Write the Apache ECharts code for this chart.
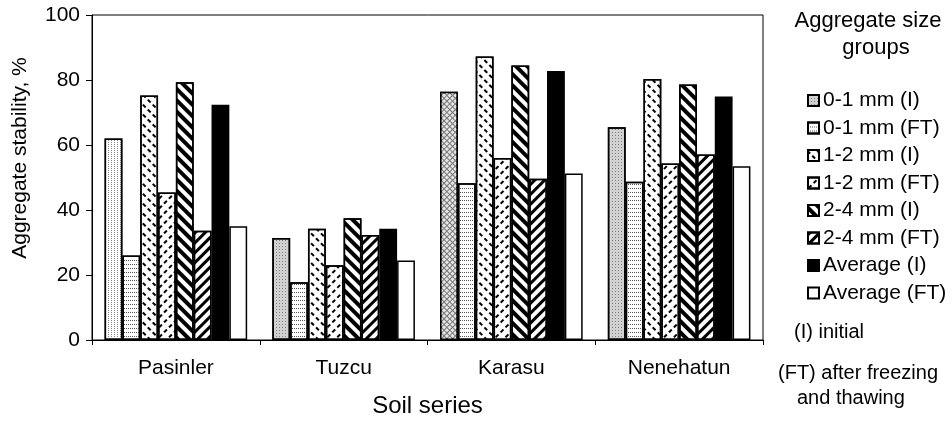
<!DOCTYPE html>
<html><head><meta charset="utf-8">
<script src="https://cdn.jsdelivr.net/npm/echarts@6/dist/echarts.min.js"></script>
<style>html,body{margin:0;padding:0;background:#fff}#c{width:952px;height:423px}</style>
</head><body><div id="c"></div>
<script>
var categories = ['Pasinler', 'Tuzcu', 'Karasu', 'Nenehatun'];
var seriesNames = ['0-1 mm (I)', '0-1 mm (FT)', '1-2 mm (I)', '1-2 mm (FT)', '2-4 mm (I)', '2-4 mm (FT)', 'Average (I)', 'Average (FT)'];
var v01I  = [62, 31.4, 76.4, 65.5];
var v01FT = [26, 17.8, 48.2, 48.7];
var v12I  = [75.2, 34.2, 87.2, 80.3];
var v12FT = [45.4, 23, 56, 54.3];
var v24I  = [79.3, 37.5, 84.5, 78.6];
var v24FT = [33.6, 32.3, 49.6, 57.1];
var vAvgI = [72.4, 34.2, 82.8, 74.9];
var vAvgFT= [35, 24.5, 51.2, 53.5];
var yTicks = [0, 20, 40, 60, 80, 100];

var font = '"Liberation Sans", Arial, sans-serif';
var allValues = [v01I, v01FT, v12I, v12FT, v24I, v24FT, vAvgI, vAvgFT];

var styles = [
  {color:'#d2d2d2', decal:{symbol:'rect', symbolSize:1, dashArrayX:[1,2], dashArrayY:[1,2], color:'#808080'}},
  {color:'#ffffff', decal:{symbol:'rect', symbolSize:1, dashArrayX:[1,1], dashArrayY:[1,3], color:'#555'}},
  {color:'#ffffff', decal:{symbol:'rect', symbolSize:1, dashArrayX:[[4,3]], dashArrayY:[1.6,4.5], rotation:Math.PI/4, color:'#000'}},
  {color:'#ffffff', decal:{symbol:'rect', symbolSize:1, dashArrayX:[[4,3]], dashArrayY:[1.6,4.5], rotation:-Math.PI/4, color:'#000'}},
  {color:'#ffffff', decal:{symbol:'rect', symbolSize:1, dashArrayX:[1,0], dashArrayY:[4,4], rotation:Math.PI/4, color:'#000'}},
  {color:'#ffffff', decal:{symbol:'rect', symbolSize:1, dashArrayX:[1,0], dashArrayY:[3,4], rotation:-Math.PI/4, color:'#000'}},
  {color:'#000000'},
  {color:'#ffffff'}
];
// per-category variants of the first pattern
var firstVariants = [
  {color:'#ffffff', decal:{symbol:'rect', symbolSize:1, dashArrayX:[1,2], dashArrayY:[1,1], color:'#888'}},
  null,
  {color:'#777777', decal:{symbol:'rect', symbolSize:1, dashArrayX:[3,1], dashArrayY:[3,1], rotation:Math.PI/4, color:'#e6e6e6'}},
  null
];

var series = seriesNames.map(function(name, i){
  var st = styles[i];
  var data = allValues[i].map(function(v, j){
    if (i === 0 && firstVariants[j]) {
      var fv = firstVariants[j];
      var it = {color: fv.color, borderColor:'#000', borderWidth:1.5};
      if (fv.decal) it.decal = fv.decal;
      return {value: v, itemStyle: it};
    }
    return v;
  });
  var itemStyle = {color: st.color, borderColor:'#000', borderWidth:1.5};
  if (st.decal) itemStyle.decal = st.decal;
  return {
    name: name, type:'bar', data: data, barGap:'0%', barCategoryGap:'15%',
    itemStyle: itemStyle, emphasis:{disabled:true}, animation:false
  };
});

var chart = echarts.init(document.getElementById('c'), null, {renderer:'canvas'});
chart.setOption({
  animation:false,
  grid:{left:92, right:189, top:15, bottom:81, show:true, borderColor:'#000', borderWidth:1, backgroundColor:'transparent'},
  xAxis:{
    type:'category', data:categories,
    axisLine:{lineStyle:{color:'#000', width:1}},
    axisTick:{show:true, length:5, lineStyle:{color:'#000'}},
    axisLabel:{color:'#000', fontFamily:font, fontSize:21, margin:18},
    name:'Soil series', nameLocation:'middle', nameGap:54,
    nameTextStyle:{color:'#000', fontFamily:font, fontSize:24}
  },
  yAxis:{
    type:'value', min:0, max:100, interval:20,
    axisLine:{show:true, lineStyle:{color:'#000', width:1}},
    axisTick:{show:true, length:6, lineStyle:{color:'#000'}},
    splitLine:{show:false},
    axisLabel:{color:'#000', fontFamily:font, fontSize:21, margin:12,
      formatter:function(v){ return yTicks.indexOf(v) >= 0 ? String(v) : ''; }}
  },
  legend:{
    orient:'vertical', left:802, top:85, icon:'rect', itemWidth:11, itemHeight:11, itemGap:6.5,
    textStyle:{color:'#000', fontFamily:font, fontSize:21, padding:[0,0,0,-1]},
    data: seriesNames
  },
  graphic:[
    {type:'text', x:20, y:158, rotation:Math.PI/2, style:{text:'Aggregate stability, %', textAlign:'center', textVerticalAlign:'middle', fill:'#000', font:'21px ' + font}},
    {type:'text', style:{text:'Aggregate size', x:868, y:10, textAlign:'center', fill:'#000', font:'22px ' + font}},
    {type:'text', style:{text:'groups', x:876, y:37, textAlign:'center', fill:'#000', font:'22px ' + font}},
    {type:'text', style:{text:'(I) initial', x:794, y:322, fill:'#000', font:'20px ' + font}},
    {type:'text', style:{text:'(FT) after freezing', x:778, y:363, fill:'#000', font:'20px ' + font}},
    {type:'text', style:{text:'and thawing', x:797, y:388, fill:'#000', font:'20px ' + font}}
  ],
  series: series
});
</script></body></html>
